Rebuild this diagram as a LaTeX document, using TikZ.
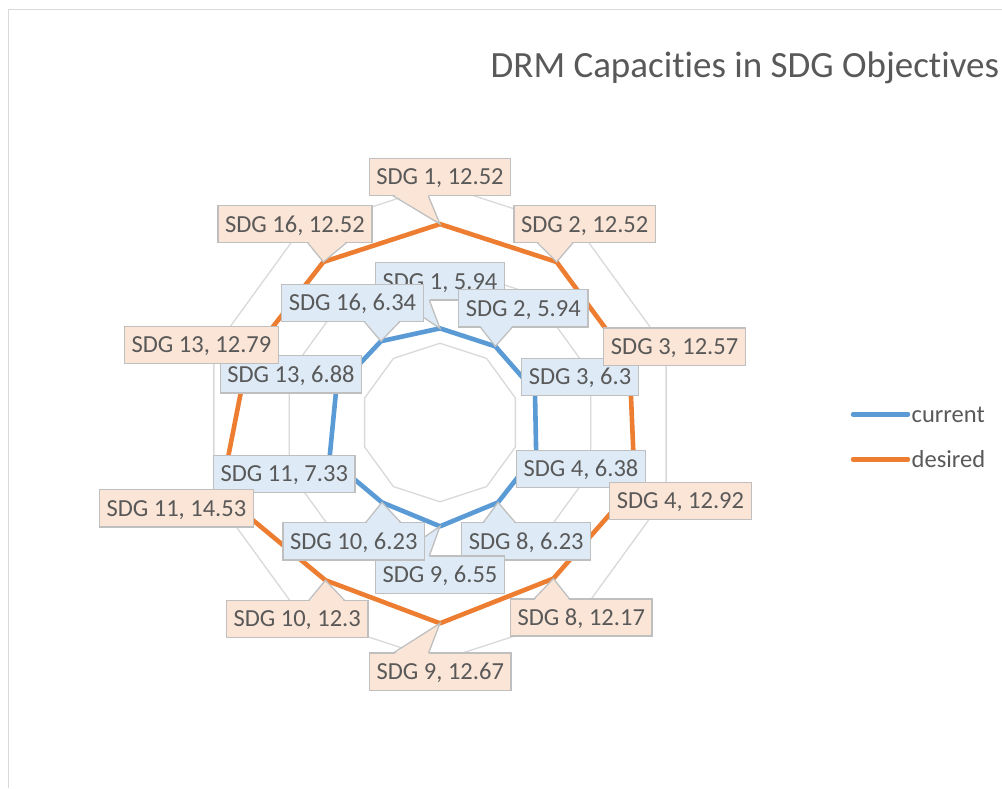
\documentclass[tikz,border=0pt]{standalone}
\usepackage{fontspec}
\setmainfont{Carlito}[Ligatures=NoCommon]
\usetikzlibrary{calc}
\definecolor{gridc}{HTML}{D9D9D9}
\definecolor{bluec}{HTML}{5B9BD5}
\definecolor{orangec}{HTML}{ED7D31}
\definecolor{bluefill}{HTML}{DEEBF7}
\definecolor{orangefill}{HTML}{FBE5D6}
\definecolor{lblborder}{HTML}{BFBFBF}
\definecolor{txtc}{HTML}{595959}
\newcommand\wedgeS[5]{%
  \fill[#5] ($(#1.south west)!#3!(#1.south east)+(0pt,1.6pt)$) -- (#2) -- ($(#1.south west)!#4!(#1.south east)+(0pt,1.6pt)$) -- cycle;
  \draw[wedgeline] ($(#1.south west)!#3!(#1.south east)$) -- (#2) -- ($(#1.south west)!#4!(#1.south east)$);}
\newcommand\wedgeN[5]{%
  \fill[#5] ($(#1.north west)!#3!(#1.north east)+(0pt,-1.6pt)$) -- (#2) -- ($(#1.north west)!#4!(#1.north east)+(0pt,-1.6pt)$) -- cycle;
  \draw[wedgeline] ($(#1.north west)!#3!(#1.north east)$) -- (#2) -- ($(#1.north west)!#4!(#1.north east)$);}
\begin{document}
\begin{tikzpicture}[x=1pt,y=-1pt,
  gridline/.style={draw=gridc, line width=1.3pt},
  bser/.style={draw=bluec, line width=4.6pt, line join=round},
  oser/.style={draw=orangec, line width=4.6pt, line join=round},
  lbl/.style={font=\fontsize{24.5}{29}\selectfont, text=txtc, inner xsep=7.2pt, inner ysep=0pt, minimum height=37.2pt, text height=15.6pt, text depth=0pt, draw=lblborder, line width=1.3pt, outer sep=0pt},
  blbl/.style={lbl, fill=bluefill},
  olbl/.style={lbl, fill=orangefill},
  wedgeline/.style={draw=lblborder, line width=1.3pt},
  legtxt/.style={font=\fontsize{24.5}{29}\selectfont, text=txtc, anchor=base west, inner sep=0pt},
]
\useasboundingbox (0,0) rectangle (1002,788);
\fill[white] (0,0) rectangle (1002,788);
\coordinate (f1) at (8.5,788); \coordinate (f2) at (8.5,9.3); \coordinate (f3) at (1002,9.3);
\draw[draw=gridc, line width=1.4pt] (f1) -- (f2) -- (f3);
\node[font=\fontsize{37}{44}\selectfont, text=txtc, anchor=base west, inner sep=0pt] (title) at (490.5,77) {DRM Capacities in SDG Objectives};
\def\scl{15.85}
\coordinate (C) at (440,422.5);
\foreach \r in {5,10,15}
  \draw[gridline] ($(C)+(-90:{\r*\scl})$) \foreach \k in {1,...,9}{ -- ($(C)+({-90+36*\k}:{\r*\scl})$)} -- cycle;
% data points
\foreach \v [count=\k from 0] in {5.94,5.94,6.3,6.38,6.23,6.55,6.23,7.33,6.88,6.34}
  \coordinate (b\k) at ($(C)+({-90+36*\k}:{\v*\scl})$);
\foreach \v [count=\k from 0] in {12.52,12.52,12.57,12.92,12.17,12.67,12.3,14.53,12.79,12.52}
  \coordinate (o\k) at ($(C)+({-90+36*\k}:{\v*\scl})$);
\draw[bser] (b0) -- (b1) -- (b2) -- (b3) -- (b4) -- (b5) -- (b6) -- (b7) -- (b8) -- (b9) -- cycle;
\draw[oser] (o0) -- (o1) -- (o2) -- (o3) -- (o4) -- (o5) -- (o6) -- (o7) -- (o8) -- (o9) -- cycle;
% blue labels
\node[blbl] (nb0) at (440,281.3) {SDG 1, 5.94}; \wedgeS{nb0}{b0}{0.1667}{0.4167}{bluefill}
\node[blbl] (nb1) at (523.3,308.3) {SDG 2, 5.94}; \wedgeS{nb1}{b1}{0.1667}{0.4167}{bluefill}
\node[blbl] (nb2) at (580,377) {SDG 3, 6.3};
\node[blbl] (nb3) at (581,468.8) {SDG 4, 6.38};
\node[blbl] (nb4) at (526.2,541.3) {SDG 8, 6.23}; \wedgeN{nb4}{b4}{0.1667}{0.4167}{bluefill}
\node[blbl] (nb5) at (440,574.7) {SDG 9, 6.55}; \wedgeN{nb5}{b5}{0.1667}{0.4167}{bluefill}
\node[blbl] (nb6) at (353.8,541.3) {SDG 10, 6.23}; \wedgeN{nb6}{b6}{0.5833}{0.8333}{bluefill}
\node[blbl] (nb7) at (284.3,473.8) {SDG 11, 7.33};
\node[blbl] (nb8) at (291,374.3) {SDG 13, 6.88};
\node[blbl] (nb9) at (352.5,303) {SDG 16, 6.34}; \wedgeS{nb9}{b9}{0.5833}{0.8333}{bluefill}
% orange labels
\node[olbl] (no0) at (440,177) {SDG 1, 12.52}; \wedgeS{no0}{o0}{0.1667}{0.4167}{orangefill}
\node[olbl] (no1) at (584.7,224.2) {SDG 2, 12.52}; \wedgeS{no1}{o1}{0.1667}{0.4167}{orangefill}
\node[olbl] (no2) at (674.6,346.7) {SDG 3, 12.57};
\node[olbl] (no3) at (680.4,501) {SDG 4, 12.92};
\node[olbl] (no4) at (581.3,617.5) {SDG 8, 12.17}; \wedgeN{no4}{o4}{0.1667}{0.4167}{orangefill}
\node[olbl] (no5) at (440.3,671.7) {SDG 9, 12.67}; \wedgeN{no5}{o5}{0.1667}{0.4167}{orangefill}
\node[olbl] (no6) at (297.2,618.8) {SDG 10, 12.3}; \wedgeN{no6}{o6}{0.5833}{0.8333}{orangefill}
\node[olbl] (no7) at (176.4,508.3) {SDG 11, 14.53};
\node[olbl] (no8) at (201.5,345) {SDG 13, 12.79};
\node[olbl] (no9) at (295,224.2) {SDG 16, 12.52}; \wedgeS{no9}{o9}{0.5833}{0.8333}{orangefill}
% legend
\coordinate (lc1) at (853,414.3); \coordinate (lc2) at (908,414.3);
\coordinate (ld1) at (853,459.3); \coordinate (ld2) at (908,459.3);
\draw[bser, line width=4.4pt, line cap=round] (lc1) -- (lc2);
\draw[oser, line width=4.4pt, line cap=round] (ld1) -- (ld2);
\node[legtxt] (lct) at (911.5,422.7) {current};
\node[legtxt] (ldt) at (911.5,467.3) {desired};
\end{tikzpicture}
\end{document}
